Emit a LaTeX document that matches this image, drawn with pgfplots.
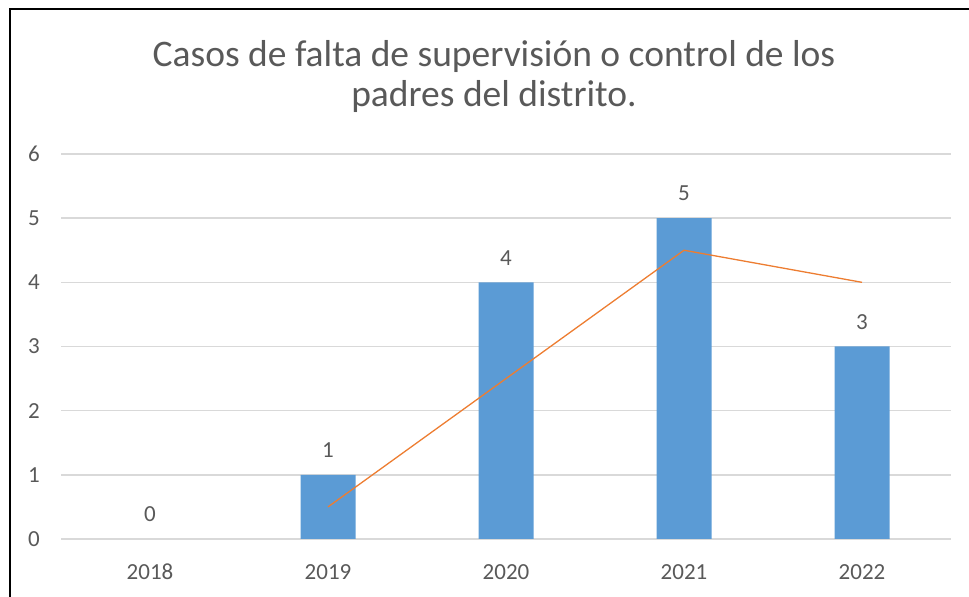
\documentclass[border=0pt]{standalone}
\usepackage{pgfplots}
\pgfplotsset{compat=1.18}
\usepackage{fontspec}
\setmainfont{Carlito}
\definecolor{barblue}{HTML}{5B9BD5}
\definecolor{lineorange}{HTML}{ED7D31}
\definecolor{txtgray}{HTML}{595959}
\definecolor{gridgray}{HTML}{D9D9D9}
\begin{document}
\begin{tikzpicture}[x=1bp,y=1bp]
\useasboundingbox (0,0) rectangle (969,597);
\begin{axis}[
  at={(61bp,58bp)}, anchor=south west,
  scale only axis, width=890bp, height=385bp,
  xmin=-0.5, xmax=4.5, ymin=0, ymax=6,
  xtick={0,1,2,3,4}, xticklabels={2018,2019,2020,2021,2022},
  ytick={0,1,2,3,4,5,6},
  /pgf/number format/assume math mode=true,
  axis line style={draw=none},
  major tick length=0pt,
  ymajorgrids, grid style={gridgray, line width=1.5bp},
  tick label style={font=\fontsize{23bp}{27bp}\selectfont, text=txtgray, inner sep=0pt},
  xticklabel style={anchor=north, yshift=-25bp},
  yticklabel style={anchor=east, xshift=-21bp},
  clip=false,
  every node near coord/.style={anchor=south, inner sep=0pt, yshift=17bp, font=\fontsize{23bp}{27bp}\selectfont, text=txtgray},
]
\addplot[ybar, bar width=55bp, fill=barblue, draw=none, nodes near coords]
  coordinates {(1,1) (2,4) (3,5) (4,3)};
\addplot[draw=none, mark=none, nodes near coords] coordinates {(0,0)};
\addplot[lineorange, line width=1.3bp, mark=none] coordinates {(1,0.5) (2,2.5) (3,4.5) (4,4)};
\end{axis}
\node[anchor=base, text=txtgray, inner sep=0pt, font=\fontsize{37.5bp}{40bp}\selectfont] at (494,530) {Casos de falta de supervisión o control de los};
\node[anchor=base, text=txtgray, inner sep=0pt, font=\fontsize{37.5bp}{40bp}\selectfont] at (494,490) {padres del distrito.};
\draw[line width=2bp] (9.5,0) -- (9.5,587.5) -- (969,587.5);
\end{tikzpicture}
\end{document}
